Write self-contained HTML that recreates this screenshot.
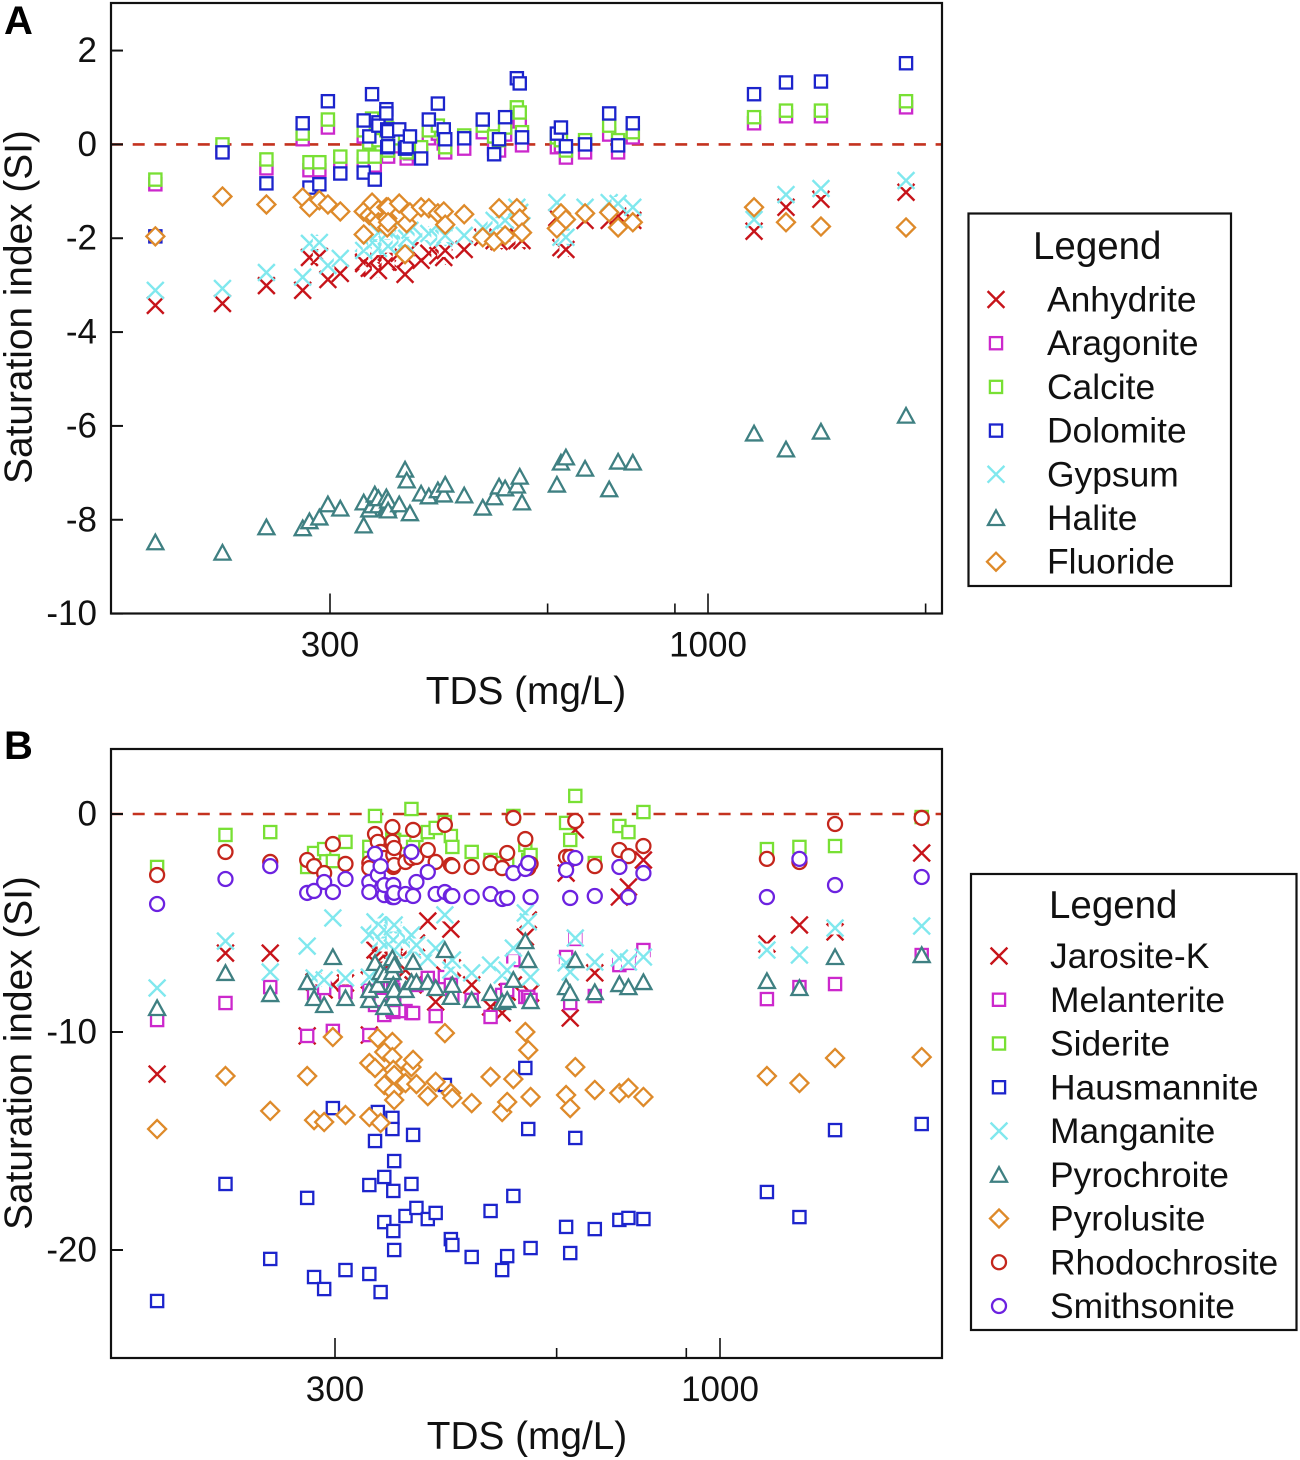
<!DOCTYPE html>
<html lang="en">
<head>
<meta charset="utf-8">
<title>Saturation index vs TDS</title>
<style>
html,body{margin:0;padding:0;background:#fff;}
svg{display:block;font-family:"Liberation Sans",Arial,sans-serif;fill:#111;}
.tick{font-size:35px;}
.title{font-size:38.8px;}
.leg{font-size:35.4px;}
.legt{font-size:38.5px;}
.panel{font-size:40px;font-weight:bold;fill:#000;}
</style>
</head>
<body>
<svg id="chart" width="1300" height="1460" viewBox="0 0 1300 1460" xmlns="http://www.w3.org/2000/svg">
  <rect width="1300" height="1460" fill="#fff"/>
  <text class="panel" x="4" y="34">A</text>
  <text class="panel" x="4" y="759">B</text>
  <g id="panelA"></g>
  <g id="panelB"></g>
  <text class="title" x="19" y="307" text-anchor="middle" dominant-baseline="central" transform="rotate(-90 19 307)">Saturation index (SI)</text>
  <text class="title" x="19" y="1053" text-anchor="middle" dominant-baseline="central" transform="rotate(-90 19 1053)">Saturation index (SI)</text>
  <text class="title" x="526" y="704" text-anchor="middle">TDS (mg/L)</text>
  <text class="title" x="527" y="1449" text-anchor="middle">TDS (mg/L)</text>
  <g id="legendA">
    <rect x="968.5" y="213.5" width="262.5" height="372.5" fill="#fff" stroke="#111" stroke-width="2.2"/>
    <text class="legt" x="1033" y="259">Legend</text>
  </g>
  <g id="legendB">
    <rect x="971" y="874" width="325.5" height="456" fill="#fff" stroke="#111" stroke-width="2.2"/>
    <text class="legt" x="1049" y="918">Legend</text>
  </g>
</svg>
<script>
const sampleTds = [172,213,245,275,281,290,298,310,334,334,340,343,346,350,350,359,359,360,360,361,361,374,381,383,387,401,411,423,431,433,460,488,506,514,524,544,549,553,618,626,636,676,730,751,787,1158,1282,1433,1879];

const xMajorTicks = [300,1000];
const xMinorTicks = [600,900,2000];
const yTicksA = [2,0,-2,-4,-6,-8,-10];
const yTicksB = [0,-10,-20];

const anhydriteSI = [-3.43,-3.39,-3.01,-3.11,-2.41,-2.39,-2.88,-2.75,-2.54,-2.51,-2.64,-2.64,-2.43,-2.37,-2.69,-2.51,-2.30,-2.43,-2.32,-2.51,-2.26,-2.32,-2.77,-2.43,-2.26,-2.47,-2.32,-2.37,-2.41,-2.26,-2.24,-1.98,-2.05,-2.07,-1.94,-2.05,-2.00,-2.05,-1.56,-2.20,-2.24,-1.62,-1.62,-1.53,-1.62,-1.85,-1.34,-1.17,-1.02];
const aragoniteSI = [-0.85,-0.13,-0.51,0.11,-0.55,-0.55,0.36,-0.43,-0.43,0.17,-0.09,0.43,-0.45,0.04,-0.06,0.23,0.15,0.19,-0.23,0.04,-0.26,-0.04,-0.06,-0.30,-0.19,-0.21,0.13,0.23,0.02,-0.17,-0.09,0.26,-0.09,-0.13,0.21,0.62,0.49,-0.02,-0.06,-0.04,-0.28,-0.17,0.21,-0.17,0.15,0.45,0.60,0.60,0.79];
const calciteSI = [-0.75,0,-0.32,0.23,-0.38,-0.38,0.53,-0.26,-0.26,0.30,0.04,0.55,-0.26,0.19,0.09,0.40,0.30,0.34,-0.13,0.19,-0.13,0.13,0.09,-0.17,-0.04,-0.06,0.30,0.40,0.17,-0.06,0.19,0.40,0.17,0.09,0.36,0.79,0.68,0.26,0.15,0.09,-0.13,0.09,0.40,0.09,0.26,0.58,0.72,0.72,0.92];
const dolomiteSI = [-1.96,-0.17,-0.83,0.45,-0.92,-0.85,0.92,-0.62,-0.60,0.51,0.17,1.07,-0.75,0.47,0.40,0.75,0.66,0.32,-0.06,0.28,-0.04,0.32,-0.09,-0.06,0.17,-0.30,0.53,0.87,0.32,0.11,0.13,0.53,-0.21,0.11,0.58,1.41,1.30,0.15,0.23,0.36,-0.04,0,0.66,-0.02,0.45,1.07,1.32,1.34,1.73];
const gypsumSI = [-3.11,-3.07,-2.73,-2.83,-2.11,-2.09,-2.58,-2.43,-2.11,-2.26,-2.15,-1.94,-2.05,-1.88,-2.22,-2.05,-1.96,-2.13,-2.00,-2.17,-1.88,-2.05,-2.11,-2.00,-1.83,-1.94,-1.90,-1.98,-2.00,-1.94,-1.94,-1.77,-1.62,-1.71,-1.62,-1.34,-1.45,-1.73,-1.24,-1.98,-1.98,-1.34,-1.24,-1.26,-1.34,-1.60,-1.07,-0.94,-0.77];
const haliteSI = [-8.48,-8.70,-8.16,-8.18,-8.03,-7.95,-7.67,-7.76,-8.12,-7.63,-7.78,-7.69,-7.46,-7.69,-7.54,-7.52,-7.76,-7.69,-7.74,-7.59,-7.80,-7.67,-6.93,-7.16,-7.86,-7.44,-7.50,-7.37,-7.46,-7.25,-7.48,-7.74,-7.52,-7.29,-7.33,-7.27,-7.08,-7.63,-7.25,-6.78,-6.67,-6.91,-7.35,-6.76,-6.78,-6.16,-6.50,-6.12,-5.78];
const fluorideSI = [-1.96,-1.11,-1.28,-1.13,-1.34,-1.19,-1.28,-1.43,-1.43,-1.92,-1.51,-1.24,-1.56,-1.39,-1.66,-1.34,-1.56,-1.58,-1.77,-1.34,-1.66,-1.26,-2.34,-1.68,-1.45,-1.34,-1.36,-1.47,-1.43,-1.71,-1.49,-1.98,-2.07,-1.36,-1.94,-1.36,-1.58,-1.88,-1.79,-1.47,-1.60,-1.47,-1.45,-1.77,-1.66,-1.34,-1.66,-1.75,-1.77];

const jarositeSI = [-11.93,-6.38,-6.38,-10.18,-7.71,-8.07,-7.84,-7.75,-10.14,-7.61,-6.24,-6.93,-5.92,-6.47,-6.15,-5.78,-6.24,-6.01,-6.70,-5.87,-6.15,-7.16,-6.10,-7.84,-5.92,-4.91,-8.62,-7.39,-5.28,-7.06,-7.84,-8.85,-9.13,-8.17,-7.84,-5.64,-4.86,-8.21,-2.71,-9.36,-0.73,-7.29,-3.81,-3.35,-2.11,-5.96,-5.09,-5.41,-1.79];
const melanteriteSI = [-9.45,-8.67,-7.94,-10.18,-8.21,-7.98,-9.95,-8.17,-10.14,-8.07,-8.76,-7.84,-8.53,-9.13,-9.22,-8.99,-7.39,-8.07,-9.08,-8.99,-8.53,-9.04,-9.13,-9.13,-7.84,-7.52,-9.27,-7.48,-7.84,-8.30,-8.53,-9.31,-8.30,-8.07,-6.70,-8.39,-8.39,-8.53,-6.56,-8.67,-5.73,-8.35,-6.93,-6.83,-6.24,-8.49,-7.94,-7.80,-6.47];
const sideriteSI = [-2.43,-0.96,-0.83,-2.43,-1.79,-1.61,-2.16,-1.28,-1.51,-2.02,-0.09,-1.88,-1.56,-2.11,-1.65,-1.19,-1.06,-1.42,-1.74,-1.88,-1.19,-1.28,0.23,-1.51,-0.96,-0.83,-0.64,-0.37,-1.01,-1.51,-1.74,-2.11,-2.25,-2.11,-0.09,-1.42,-2.11,-1.88,-0.41,-1.19,0.83,-2.25,-0.55,-0.83,0.09,-1.61,-1.51,-1.47,-0.14];
const hausmanniteSI = [-22.34,-16.97,-20.41,-17.61,-21.24,-21.79,-13.49,-20.92,-21.10,-17.02,-15.0,-13.67,-21.93,-16.65,-18.72,-13.94,-14.45,-17.29,-19.13,-15.92,-20.0,-18.44,-16.97,-14.72,-18.07,-18.58,-18.30,-12.43,-19.50,-19.77,-20.32,-18.21,-20.92,-20.28,-17.52,-11.65,-14.45,-19.91,-18.94,-20.14,-14.86,-19.04,-18.62,-18.53,-18.58,-17.34,-18.49,-14.50,-14.22];
const manganiteSI = [-7.98,-5.83,-7.25,-6.06,-7.52,-7.61,-4.77,-7.52,-7.48,-5.55,-4.95,-5.09,-5.78,-5.32,-6.01,-5.18,-5.46,-5.32,-5.78,-6.24,-5.09,-5.69,-5.55,-6.24,-6.01,-6.61,-6.15,-4.63,-7.16,-6.70,-7.29,-6.93,-7.39,-7.16,-6.15,-4.54,-4.95,-7.48,-6.83,-7.25,-5.69,-6.79,-6.61,-6.79,-6.56,-6.24,-6.47,-5.23,-5.14];
const pyrochroiteSI = [-8.90,-7.29,-8.26,-7.71,-8.44,-8.76,-6.56,-8.44,-8.53,-8.07,-6.83,-7.84,-7.25,-7.39,-8.85,-6.61,-7.25,-7.84,-8.44,-6.93,-8.07,-8.07,-7.71,-6.79,-7.71,-7.71,-7.98,-6.24,-8.39,-7.84,-8.53,-8.21,-8.62,-8.53,-7.61,-5.83,-6.70,-8.58,-7.94,-8.21,-6.70,-8.17,-7.80,-7.94,-7.71,-7.66,-7.98,-6.56,-6.47];
const pyrolusiteSI = [-14.45,-12.02,-13.62,-12.02,-14.04,-14.13,-10.23,-13.81,-13.90,-11.42,-11.65,-10.28,-14.17,-10.92,-12.43,-10.46,-11.15,-11.74,-12.75,-13.12,-11.97,-12.34,-11.61,-11.28,-12.39,-12.94,-12.29,-10.05,-12.80,-13.03,-13.26,-12.06,-13.67,-13.21,-12.16,-10.0,-10.83,-12.98,-12.89,-13.49,-11.61,-12.66,-12.80,-12.57,-12.98,-12.02,-12.34,-11.19,-11.15];
const rhodochrositeSI = [-2.80,-1.74,-2.20,-2.11,-2.39,-2.71,-1.38,-2.29,-2.25,-2.48,-0.92,-1.28,-1.74,-2.11,-2.02,-0.60,-1.28,-2.43,-1.88,-2.34,-1.56,-2.20,-2.02,-0.73,-1.97,-1.65,-2.20,-0.50,-2.34,-2.39,-2.43,-2.25,-2.48,-1.79,-0.18,-1.15,-2.48,-2.29,-1.97,-1.97,-0.32,-2.39,-1.65,-1.93,-1.47,-2.06,-2.20,-0.46,-0.18];
const smithsoniteSI = [-4.13,-2.98,-2.39,-3.62,-3.53,-3.12,-3.58,-2.98,-3.12,-3.58,-1.83,-2.80,-2.39,-3.72,-3.26,-3.76,-3.81,-3.26,-3.72,-3.81,-3.62,-3.67,-1.74,-3.76,-3.12,-2.66,-3.67,-3.58,-3.76,-3.76,-3.81,-3.67,-3.90,-3.85,-2.71,-2.52,-2.25,-3.81,-2.57,-3.85,-2.02,-3.76,-2.43,-3.81,-2.71,-3.81,-2.06,-3.26,-2.89];

const seriesNamesA = ['Anhydrite','Aragonite','Calcite','Dolomite','Gypsum','Halite','Fluoride'];
const seriesValuesA = [anhydriteSI,aragoniteSI,calciteSI,dolomiteSI,gypsumSI,haliteSI,fluorideSI];
const seriesNamesB = ['Jarosite-K','Melanterite','Siderite','Hausmannite','Manganite','Pyrochroite','Pyrolusite','Rhodochrosite','Smithsonite'];
const seriesValuesB = [jarositeSI,melanteriteSI,sideriteSI,hausmanniteSI,manganiteSI,pyrochroiteSI,pyrolusiteSI,rhodochrositeSI,smithsoniteSI];

const SVGNS = 'http://www.w3.org/2000/svg';
const styles = {
  Anhydrite:['x','#c7141a'],Aragonite:['s','#cc28cc'],Calcite:['s','#78e034'],Dolomite:['s','#1c24cc'],
  Gypsum:['x','#80e8ee'],Halite:['t','#3f8082'],Fluoride:['d','#de8a2a'],
  'Jarosite-K':['x','#c7141a'],Melanterite:['s','#cc28cc'],Siderite:['s','#78e034'],Hausmannite:['s','#1c24cc'],
  Manganite:['x','#80e8ee'],Pyrochroite:['t','#3f8082'],Pyrolusite:['d','#de8a2a'],
  Rhodochrosite:['c','#c4261c'],Smithsonite:['c','#6c22e0']
};

function node(tag, attrs, parent) {
  const el = document.createElementNS(SVGNS, tag);
  for (const k in attrs) el.setAttribute(k, attrs[k]);
  if (parent) parent.appendChild(el);
  return el;
}
function slug(s) { return s.toLowerCase().replace(/[^a-z]+/g, '-'); }

function drawMarker(parent, kind, color, x, y) {
  const g = node('g', {}, parent);
  const common = {fill:'#fff', stroke:color, 'stroke-width':2.3};
  if (kind === 's') {
    node('rect', Object.assign({x:x-6.1, y:y-6.1, width:12.2, height:12.2}, common), g);
  } else if (kind === 'd') {
    node('path', Object.assign({d:'M'+x+' '+(y-9)+'L'+(x+9)+' '+y+'L'+x+' '+(y+9)+'L'+(x-9)+' '+y+'Z'}, common), g);
  } else if (kind === 't') {
    node('path', Object.assign({d:'M'+x+' '+(y-7.6)+'L'+(x+8)+' '+(y+7)+'L'+(x-8)+' '+(y+7)+'Z'}, common), g);
  } else if (kind === 'c') {
    node('circle', Object.assign({cx:x, cy:y, r:7}, common), g);
  } else {
    node('rect', {x:x-6.5, y:y-6.5, width:13, height:13, fill:'#fff'}, g);
    node('path', {d:'M'+(x-8.4)+' '+(y-8.4)+'L'+(x+8.4)+' '+(y+8.4)+'M'+(x+8.4)+' '+(y-8.4)+'L'+(x-8.4)+' '+(y+8.4), fill:'none', stroke:color, 'stroke-width':2.4}, g);
  }
  return g;
}

function drawPanel(cfg) {
  const root = document.getElementById(cfg.id);
  const xScale = function (t) { return cfg.x300 + (cfg.x1000 - cfg.x300) * Math.log10(t / 300) / Math.log10(1000 / 300); };
  const yScale = function (v) { return cfg.y0 - cfg.pxPerUnit * v; };
  const dash = node('line', {x1:cfg.left, x2:cfg.right, y1:yScale(0), y2:yScale(0), stroke:'#c4321f', 'stroke-width':2.6, 'stroke-dasharray':'12 9.7'}, root);
  
  
  cfg.names.forEach(function (name, si) {
    const st = styles[name];
    const g = node('g', {}, root);
    
    
    cfg.values[si].forEach(function (v, i) {
      const m = drawMarker(g, st[0], st[1], xScale(sampleTds[i]), yScale(v));
      
      
    });
  });
  const frame = node('rect', {x:cfg.left, y:cfg.top, width:cfg.right - cfg.left, height:cfg.bottom - cfg.top, fill:'none', stroke:'#111', 'stroke-width':2.2}, root);
  
  
  cfg.yTicks.forEach(function (v) {
    const y = yScale(v);
    const t = node('line', {x1:cfg.left, x2:cfg.left + 12, y1:y, y2:y, stroke:'#111', 'stroke-width':2}, root);
    
    
    const lab = node('text', {x:cfg.left - 14, y:y, 'text-anchor':'end', 'dominant-baseline':'central', 'class':'tick'}, root);
    
    
    lab.textContent = String(v);
  });
  xMajorTicks.forEach(function (v) {
    const x = xScale(v);
    const t = node('line', {x1:x, x2:x, y1:cfg.bottom, y2:cfg.bottom - 20, stroke:'#111', 'stroke-width':1.6}, root);
    
    
    const lab = node('text', {x:x, y:cfg.bottom + 43, 'text-anchor':'middle', 'class':'tick'}, root);
    
    
    lab.textContent = String(v);
  });
  xMinorTicks.forEach(function (v) {
    const x = xScale(v);
    if (x > cfg.right - 2) return;
    const t = node('line', {x1:x, x2:x, y1:cfg.bottom, y2:cfg.bottom - 10, stroke:'#111', 'stroke-width':1.6}, root);
    
    
  });
}

function drawLegend(id, names, markerX, textX, firstY, stepY) {
  const root = document.getElementById(id);
  names.forEach(function (name, i) {
    const y = firstY + i * stepY;
    const st = styles[name];
    const g = node('g', {}, root);
    
    
    drawMarker(g, st[0], st[1], markerX, y);
    const lab = node('text', {x:textX, y:y + 12, 'class':'leg'}, g);
    lab.textContent = name;
  });
}

drawPanel({id:'panelA', names:seriesNamesA, values:seriesValuesA, x300:330, x1000:708, y0:144.4, pxPerUnit:46.92, left:111, right:942, top:3, bottom:613.5, yTicks:yTicksA});
drawPanel({id:'panelB', names:seriesNamesB, values:seriesValuesB, x300:335, x1000:720, y0:814, pxPerUnit:21.8, left:111, right:942, top:749, bottom:1358, yTicks:yTicksB});
drawLegend('legendA', seriesNamesA, 996, 1047, 299.5, 43.7);
drawLegend('legendB', seriesNamesB, 999, 1050, 956, 43.75);
</script>
</body>
</html>
